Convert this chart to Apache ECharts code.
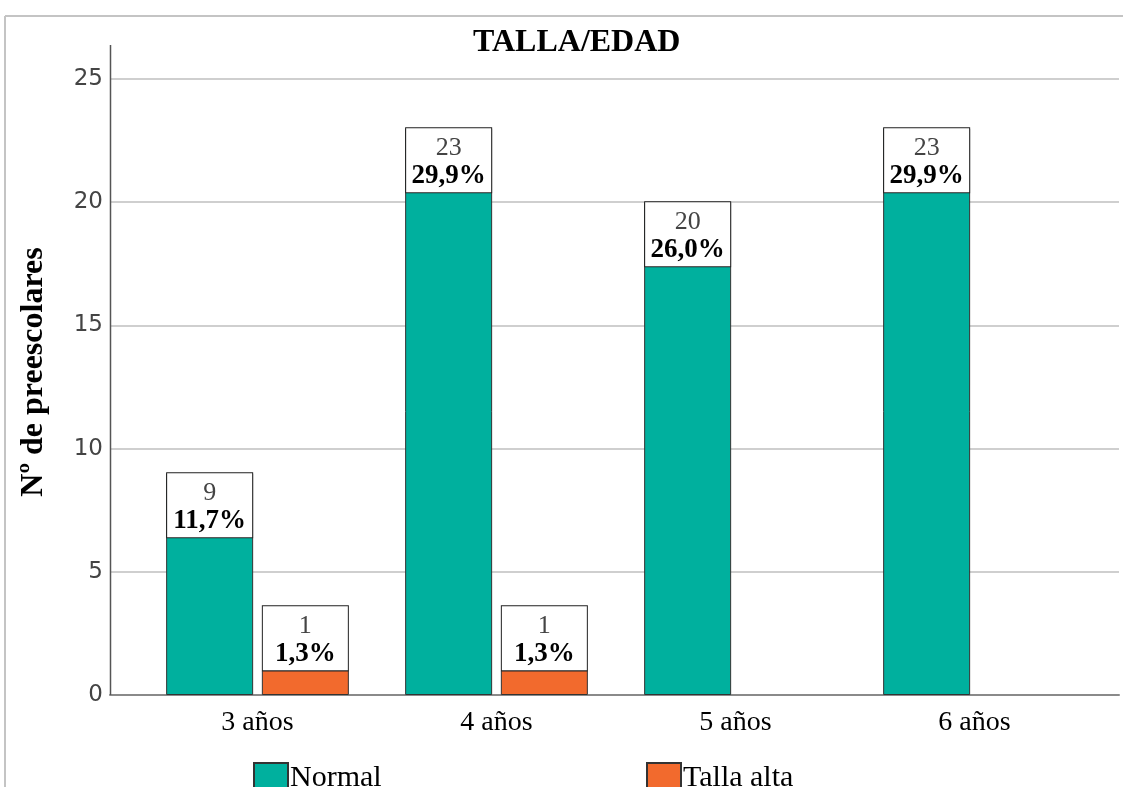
<!DOCTYPE html>
<html>
<head>
<meta charset="utf-8">
<script src="https://cdn.jsdelivr.net/npm/echarts@6/dist/echarts.min.js"></script>
<style>
  html, body { margin: 0; padding: 0; background: #fff; }
  #chart { width: 1123px; height: 787px; }
</style>
</head>
<body>
<div id="chart"></div>
<script>
// data
const categories = ["3 años", "4 años", "5 años", "6 años"];
const normal = [9, 23, 20, 23];
const normalPct = ["11,7%", "29,9%", "26,0%", "29,9%"];
const tallaAlta = [1, 1, null, null];
const tallaAltaPct = ["1,3%", "1,3%", "", ""];
const yTicks = [0, 5, 10, 15, 20, 25];

const serif = "'Liberation Serif', 'Times New Roman', serif";
const tealColor = "#00b09e";
const orangeColor = "#f26a2d";

const chart = echarts.init(document.getElementById("chart"));

function boxLabel(pcts, position) {
  return {
    show: true,
    position: position,
    distance: 0,
    width: 85,
    padding: [6, 0, 2, 0],
    backgroundColor: "#fff",
    borderColor: "#222",
    borderWidth: 1,
    align: "center",
    formatter: function (p) {
      return "{n|" + p.value + "}\n{p|" + pcts[p.dataIndex] + "}";
    },
    rich: {
      n: { fontFamily: serif, fontSize: 26, color: "#444", lineHeight: 28, align: "center", width: 85 },
      p: { fontFamily: serif, fontSize: 27, fontWeight: "bold", color: "#000", lineHeight: 28, align: "center", width: 85 }
    }
  };
}

const legendBase = {
  top: 762,
  padding: 0,
  icon: "rect",
  itemWidth: 34,
  itemHeight: 30,
  itemGap: 0,
  textStyle: { fontFamily: serif, fontSize: 30, color: "#000", padding: [4, 0, 0, -3] }
};

chart.setOption({
  animation: false,
  backgroundColor: "#fff",
  title: {
    text: "TALLA/EDAD",
    left: 473,
    top: 27,
    padding: 0,
    textStyle: { fontFamily: serif, fontSize: 32, fontWeight: "bold", color: "#000" }
  },
  legend: [
    Object.assign({}, legendBase, { data: ["Normal"], left: 253 }),
    Object.assign({}, legendBase, { data: ["Talla alta"], left: 646 })
  ],
  grid: [
    { left: 110, right: 4, top: 79, bottom: 92 },
    { left: 138, right: 29, top: 79, bottom: 92 }
  ],
  xAxis: [
    {
      gridIndex: 0,
      type: "value",
      min: 0,
      max: 1,
      axisLabel: { show: false },
      axisTick: { show: false },
      splitLine: { show: false },
      axisLine: { show: true, lineStyle: { color: "#8a8a8a", width: 2 } }
    },
    {
      gridIndex: 1,
      type: "category",
      data: categories,
      axisLine: { show: false },
      axisTick: { show: false },
      axisLabel: { margin: 14, fontFamily: serif, fontSize: 28, color: "#000" }
    }
  ],
  yAxis: [
    {
      gridIndex: 0,
      type: "value",
      min: 0,
      max: 25,
      interval: 5,
      axisLine: { show: false },
      axisTick: { show: false },
      axisLabel: {
        margin: 7,
        fontFamily: "'DejaVu Sans', sans-serif",
        fontSize: 23,
        color: "#444",
        formatter: function (v) { return yTicks.indexOf(v) >= 0 ? String(v) : ""; }
      },
      splitLine: { show: true, lineStyle: { color: "#cfcfcf", width: 2 } }
    },
    {
      gridIndex: 1,
      type: "value",
      min: 0,
      max: 25,
      show: false,
      splitLine: { show: false }
    }
  ],
  series: [
    {
      name: "Normal",
      type: "bar",
      xAxisIndex: 1,
      yAxisIndex: 1,
      data: normal,
      barWidth: 87,
      barGap: "10%",
      itemStyle: { color: tealColor, borderColor: "#333", borderWidth: 1 },
      label: boxLabel(normalPct, "insideTop")
    },
    {
      name: "Talla alta",
      type: "bar",
      xAxisIndex: 1,
      yAxisIndex: 1,
      data: tallaAlta,
      barWidth: 87,
      barGap: "10%",
      itemStyle: { color: orangeColor, borderColor: "#333", borderWidth: 1 },
      label: boxLabel(tallaAltaPct, "top")
    }
  ],
  graphic: [
    // outer frame of the output viewer
    { type: "line", shape: { x1: 5, y1: 16, x2: 1123, y2: 16 }, style: { stroke: "#c4c4c4", lineWidth: 2 } },
    { type: "line", shape: { x1: 5, y1: 16, x2: 5, y2: 787 }, style: { stroke: "#c4c4c4", lineWidth: 2 } },
    // y axis line, runs a bit above the 25 tick
    { type: "line", z: 5, shape: { x1: 110.5, y1: 45, x2: 110.5, y2: 695 }, style: { stroke: "#555", lineWidth: 1.5 } },
    // y axis title
    {
      type: "text",
      x: 34,
      y: 372,
      rotation: Math.PI / 2,
      style: {
        text: "Nº de preescolares",
        fontFamily: serif,
        fontSize: 32,
        fontWeight: "bold",
        fill: "#000",
        align: "center",
        verticalAlign: "middle"
      }
    }
  ]
});
</script>
</body>
</html>
